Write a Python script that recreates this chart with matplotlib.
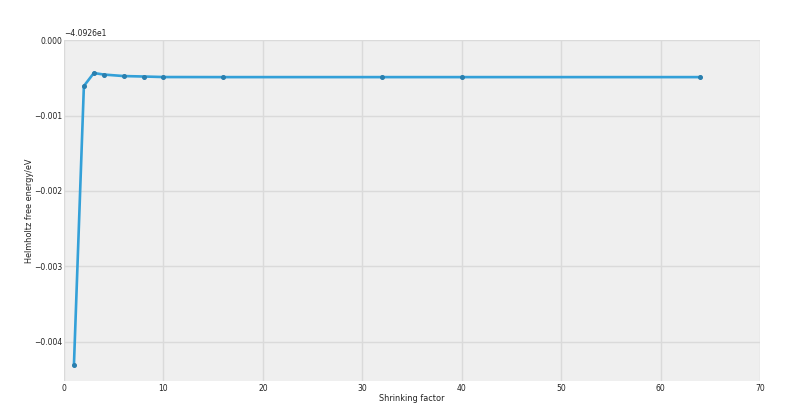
import numpy as np
import matplotlib
matplotlib.use('Agg')
import matplotlib.pyplot as plt
from matplotlib.ticker import ScalarFormatter

# shrinking factor vs free energy
shrink = [1, 2, 3, 4, 6, 8, 10, 16, 32, 40, 64]
energy_rel = [-0.004305, -0.000609, -0.000437, -0.000457, -0.000477, -0.000483,
              -0.000490, -0.000491, -0.000491, -0.000491, -0.000491]
base = -40.926
energy = [base + e for e in energy_rel]

txt = '#222222'
fig = plt.figure(figsize=(8, 4.09), dpi=100)
ax = fig.add_axes([0.08, 0.0685, 0.87, 0.8335])
ax.set_facecolor('#efefef')
for s in ax.spines.values():
    s.set_visible(False)
ax.grid(True, color='#dadada', linewidth=1)
ax.set_axisbelow(True)

ax.plot(shrink, energy, color='#33a0d8', linewidth=1.9, marker='o', markersize=2.6,
        markerfacecolor='#2a7fae', markeredgecolor='#2a7fae')

ax.set_xlim(0, 70)
ax.set_ylim(base - 0.00452, base)
ax.set_yticks([base + v for v in [0, -0.001, -0.002, -0.003, -0.004]])
ax.yaxis.set_major_formatter(ScalarFormatter(useOffset=base))
ax.tick_params(labelsize=5.5, length=0, pad=1.5, labelcolor=txt)
ax.tick_params(axis='x', pad=2)
ax.yaxis.get_offset_text().set_fontsize(5.5)
ax.yaxis.get_offset_text().set_color(txt)
ax.set_xlabel('Shrinking factor', fontsize=5.9, labelpad=1, color=txt)
ax.set_ylabel('Helmholtz free energy/eV', fontsize=5.9, labelpad=0, color=txt)

fig.savefig('out.png', dpi=100)
